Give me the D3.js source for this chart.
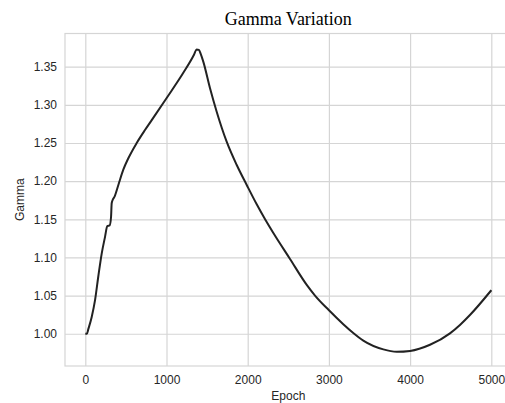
<!DOCTYPE html>
<html>
<head>
<meta charset="utf-8">
<script src="https://cdn.jsdelivr.net/npm/d3@7"></script>
<style>
  body { margin: 0; background: #fff; overflow: hidden; }
  svg { display: block; }
</style>
</head>
<body>
<div id="chart"></div>
<script>
// values
const epochs = [0, 20, 37, 79, 120, 160, 202, 243, 271, 300, 317, 325, 340, 357, 407, 468, 530, 633, 735, 818,
  1002, 1207, 1340, 1370, 1400, 1420, 1453, 1536, 1618, 1741, 1865, 1988, 2111, 2214, 2316, 2521, 2727, 2829,
  2998, 3177, 3300, 3424, 3670, 3835, 4000, 4245, 4491, 4614, 4737, 5000];
const gamma = [1.000, 1.000, 1.006, 1.022, 1.044, 1.075, 1.105, 1.127, 1.141, 1.142, 1.153, 1.171, 1.176, 1.179,
  1.195, 1.215, 1.230, 1.250, 1.267, 1.280, 1.309, 1.342, 1.366, 1.3725, 1.372, 1.367, 1.3566, 1.3217, 1.291,
  1.2517, 1.2211, 1.195, 1.1696, 1.150, 1.132, 1.098, 1.064, 1.050, 1.031, 1.0125, 1.001, 0.991, 0.9795, 0.9764,
  0.9775, 0.9855, 1.0005, 1.0115, 1.0245, 1.057];
const xTicks = [0, 1000, 2000, 3000, 4000, 5000];
const yTicks = [1.00, 1.05, 1.10, 1.15, 1.20, 1.25, 1.30, 1.35];

const makePlot = () => {
  const size = { width: 505, height: 403 };
  const margin = { top: 33.5, left: 65, bottom: 37 };
  const plotW = 446.6;
  const plotH = size.height - margin.top - margin.bottom;

  const svg = d3.select("#chart").append("svg")
    .attr("width", size.width)
    .attr("height", size.height);

  // matplotlib-style 5% padding around the data
  const x = d3.scaleLinear().domain([-250, 5250]).range([0, plotW]);
  const y = d3.scaleLinear().domain([0.9577, 1.3935]).range([plotH, 0]);

  const g = svg.append("g").attr("transform", `translate(${margin.left},${margin.top})`);

  // grid + tick labels
  const xAxis = g.append("g")
    .attr("transform", `translate(0,${plotH})`)
    .call(d3.axisBottom(x).tickValues(xTicks).tickSize(-plotH).tickPadding(9.5).tickFormat(d3.format("d")));
  const yAxis = g.append("g")
    .call(d3.axisLeft(y).tickValues(yTicks).tickSize(-plotW).tickPadding(8).tickFormat(d3.format(".2f")));

  [xAxis, yAxis].forEach((a) => {
    a.select(".domain").remove();
    a.selectAll("line").attr("stroke", "#d5d5d5").attr("stroke-width", 1.2);
    a.selectAll("text")
      .attr("fill", "#262626")
      .style("font-family", "'Liberation Sans', Arial, sans-serif")
      .style("font-size", "12px");
  });

  // spines
  g.append("rect")
    .attr("width", plotW)
    .attr("height", plotH)
    .attr("fill", "none")
    .attr("stroke", "#d5d5d5")
    .attr("stroke-width", 1.2);

  const line = d3.line()
    .x((d, i) => x(epochs[i]))
    .y((d) => y(d))
    .curve(d3.curveMonotoneX);

  g.append("path")
    .datum(gamma)
    .attr("d", line)
    .attr("fill", "none")
    .attr("stroke", "#222")
    .attr("stroke-width", 2)
    .attr("stroke-linejoin", "round");

  svg.append("text")
    .attr("x", margin.left + plotW / 2)
    .attr("y", 25)
    .attr("text-anchor", "middle")
    .attr("fill", "#000")
    .style("font-family", "'Liberation Serif', 'Times New Roman', serif")
    .style("font-size", "18px")
    .text("Gamma Variation");

  svg.append("text")
    .attr("x", margin.left + plotW / 2)
    .attr("y", 400)
    .attr("text-anchor", "middle")
    .attr("fill", "#262626")
    .style("font-family", "'Liberation Sans', Arial, sans-serif")
    .style("font-size", "12px")
    .text("Epoch");

  svg.append("text")
    .attr("transform", `translate(24,${margin.top + plotH / 2}) rotate(-90)`)
    .attr("text-anchor", "middle")
    .attr("fill", "#262626")
    .style("font-family", "'Liberation Sans', Arial, sans-serif")
    .style("font-size", "12px")
    .text("Gamma");
};

makePlot();
</script>
</body>
</html>
